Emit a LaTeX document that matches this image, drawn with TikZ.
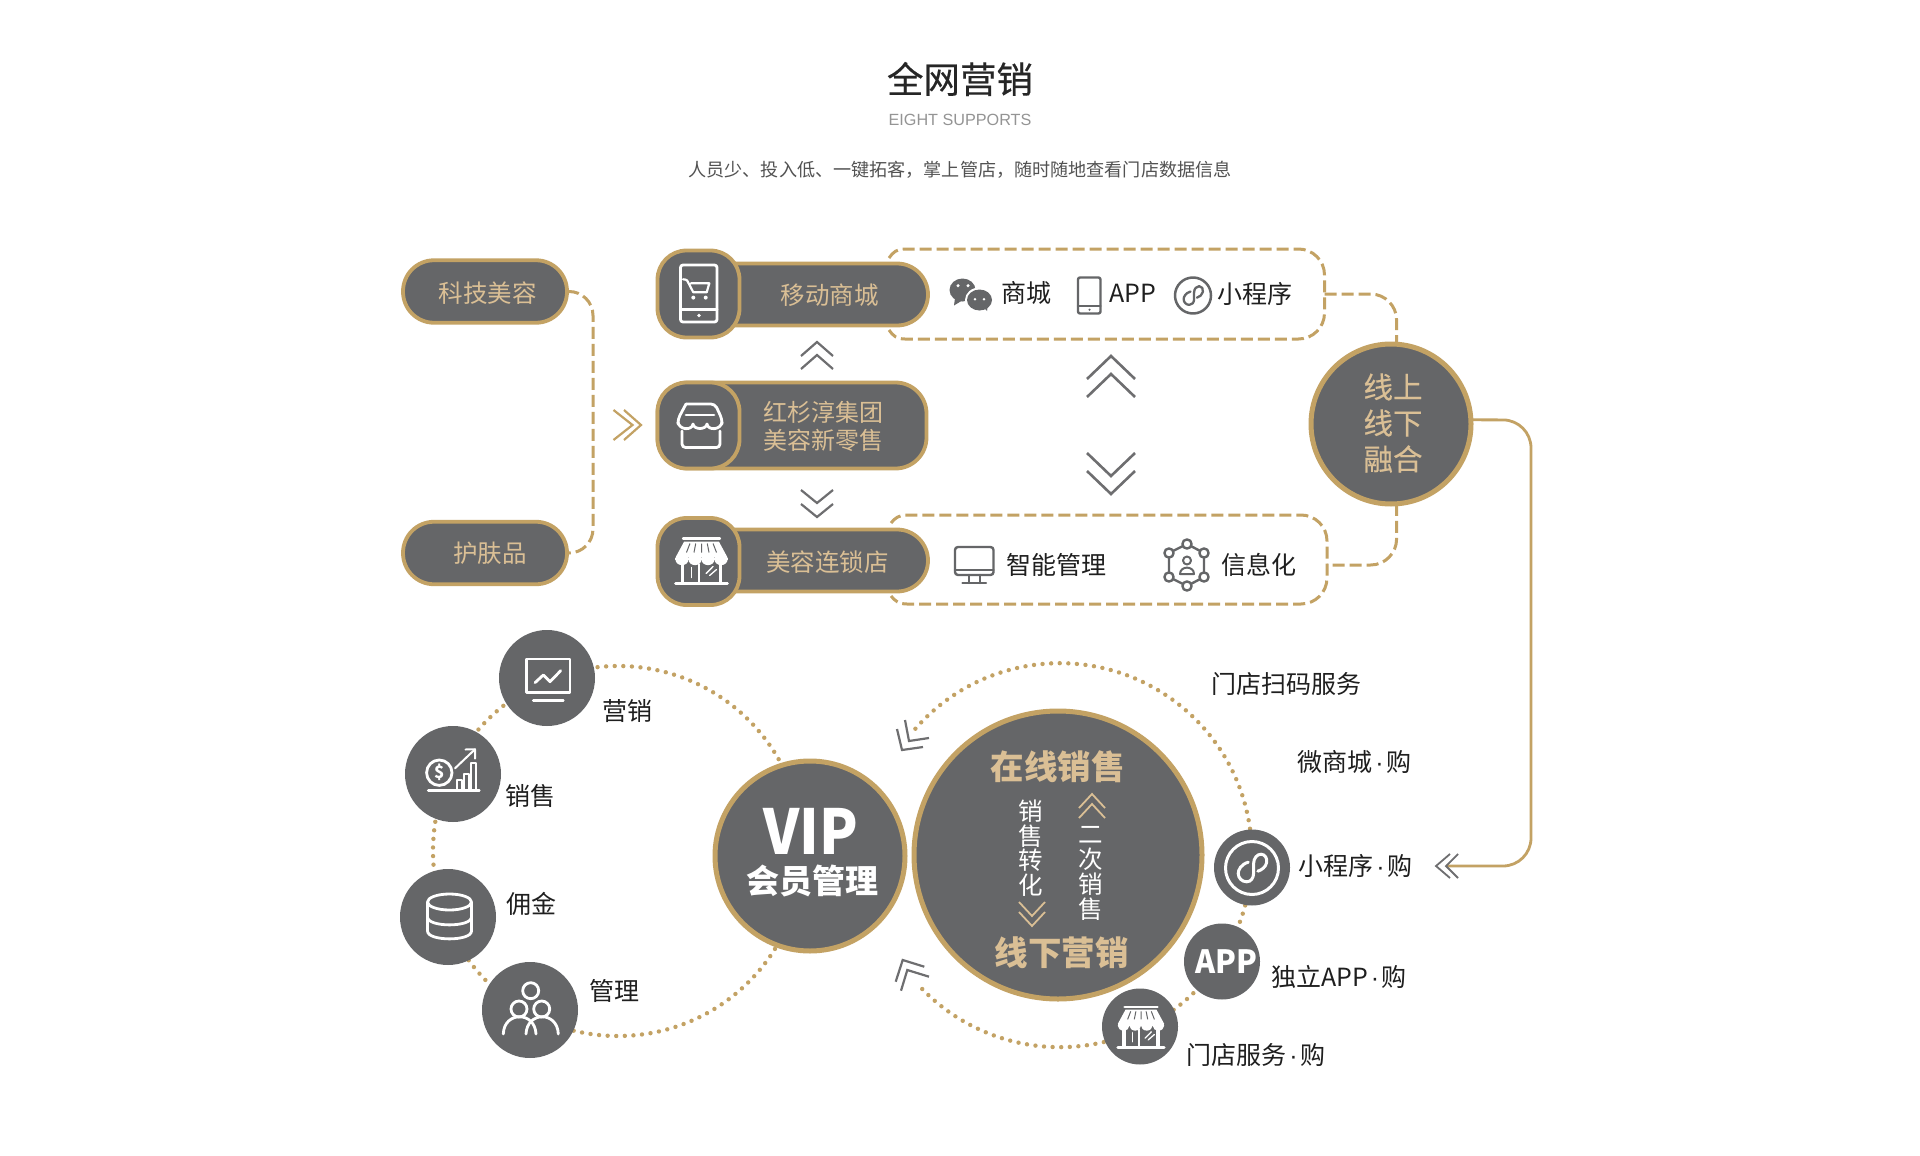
\documentclass[tikz,border=0pt]{standalone}
\usepackage{fontspec}
\setmainfont{Noto Sans CJK SC}
\newfontfamily\latinfont{Liberation Sans}
\newfontfamily\medfont[FakeBold=0.35]{Noto Sans CJK SC}
\usetikzlibrary{arrows.meta}
\definecolor{goldc}{HTML}{C3A264}
\definecolor{goldtxt}{HTML}{DABF95}
\definecolor{darkc}{HTML}{656668}
\definecolor{chev}{HTML}{6E6E70}
\newcommand{\fs}[1]{\fontsize{#1}{#1}\selectfont}
\newcommand{\midd}{\kern2.5pt{\latinfont ·}\kern2.5pt}
\tikzset{
  every node/.style={inner sep=0pt,outer sep=0pt},
  pillbox/.style={draw=goldc,line width=3.8pt,fill=darkc,rounded corners=31pt,rectangle},
  iconbox/.style={draw=goldc,line width=3.8pt,fill=darkc,rounded corners=29pt,rectangle,minimum width=82pt,minimum height=87pt},
  dashlink/.style={draw=goldc,line width=3pt,dash pattern=on 12pt off 5pt},
  solidlink/.style={draw=goldc,line width=2.8pt},
  dotring/.style={draw=goldc,line width=4.4pt,line cap=round,dash pattern=on 0pt off 8.6pt},
  chevgray/.style={draw=chev,line width=2.2pt},
  chevgold/.style={draw=goldc,line width=2.2pt},
  chevlight/.style={draw=goldtxt,line width=1.8pt},
  goldlabel/.style={text=goldtxt,font=\fs{24.5}},
  blacklabel/.style={text=black!88,font=\fs{25}},
  discgray/.style={circle,fill=darkc,minimum size=96pt},
  discsmall/.style={circle,fill=darkc,minimum size=76pt},
  discgold/.style={circle,fill=darkc,draw=goldc,line width=5pt},
  whiteline/.style={draw=white,line width=2.8pt,line cap=round,line join=round},
  grayline/.style={draw=darkc,line width=2.4pt,line cap=round,line join=round},
  pics/storeicon/.style={code={
    \draw[whiteline,line width=2.2pt] (-16,-22) -- (16,-22);
    \fill[white] (-15,-19) -- (15,-19) -- (22.5,-3) -- (-22.5,-3) -- cycle;
    \fill[white] (-22.5,-3) -- (22.5,-3) -- (22.5,-1) -- (-22.5,-1) -- cycle;
    \foreach \k in {-16.9,-5.6,5.6,16.9}{\fill[white] (\k,-1) circle (5.63);}
    \draw[draw=darkc,line width=1pt] (-10,-17) -- (-13,-8) (-5,-17) -- (-6.5,-8) (0,-17) -- (0,-8) (5,-17) -- (6.5,-8) (10,-17) -- (13,-8);
    \fill[white] (-18,3) rectangle (-15,23);
    \fill[white] (15,3) rectangle (18,23);
    \fill[white] (-3.2,3) rectangle (-1.2,23);
    \draw[whiteline] (-22.5,23.3) -- (22.5,23.3);
    \draw[whiteline,line width=1.5pt] (-8.5,7) -- (-8.5,17);
    \draw[whiteline,line width=1.3pt] (4,13) -- (10,6) (7,15) -- (13,9);
  }},
  pics/miniicon/.style={code={
    \draw[line cap=round] (-0.14,-0.22) .. controls (-0.42,-0.14) and (-0.52,0.08) .. (-0.52,0.2)
       .. controls (-0.52,0.38) and (-0.38,0.52) .. (-0.2,0.52)
       .. controls (-0.04,0.52) and (0.06,0.38) .. (0.06,0.2) -- (0.06,-0.16)
       .. controls (0.06,-0.38) and (0.2,-0.52) .. (0.34,-0.52)
       .. controls (0.5,-0.52) and (0.58,-0.36) .. (0.55,-0.2)
       .. controls (0.52,-0.04) and (0.36,0.08) .. (0.22,0.12);
  }}
}
\begin{document}
\begin{tikzpicture}[x=1pt,y=-1pt]
\useasboundingbox (0,0) rectangle (1920,1156);
\fill[white] (0,0) rectangle (1920,1156);

% header
\node (title) at (960,79) {\medfont\fs{36.5}\color{black!85}全网营销};
\node (subtitle) at (960,120) {\latinfont\fs{16.2}\color{black!42}EIGHT SUPPORTS};
\node (desc) at (960,170) {\fs{18.1}\color{black!68}人员少、投入低、一键拓客，掌上管店，随时随地查看门店数据信息};

% dotted rings
\draw[dotring] (618,851) circle (185);
\draw[dotring] (915.4,728.7) arc[start angle=-138.8,end angle=138.2,radius=192];

% left pills
\node[pillbox,minimum width=164pt,minimum height=62.5pt] (kj) at (485,291.5) {};
\node[goldlabel] (kjt) at (487.5,293) {科技美容};
\node[pillbox,minimum width=164pt,minimum height=62.5pt] (hf) at (485,553) {};
\node[goldlabel] (hft) at (490,553) {护肤品};
\coordinate (leftbus1) at (593,291.5);
\coordinate (leftbus2) at (593,553);
\draw[dashlink,rounded corners=24pt] (kj.east) -- (leftbus1) -- (leftbus2) -- (hf.east);

% dashed boxes
\draw[dashlink] (889,258) .. controls (893,252) and (897,249) .. (905,249) -- (1298.5,249) arc[start angle=-90,end angle=0,radius=26] -- (1324.5,313) arc[start angle=0,end angle=90,radius=26] -- (905,339) .. controls (897,339) and (893,336) .. (889,330);
\draw[dashlink] (891,523) .. controls (895,518) and (899,515) .. (907,515) -- (1301,515) arc[start angle=-90,end angle=0,radius=26] -- (1327,578) arc[start angle=0,end angle=90,radius=26] -- (907,604) .. controls (899,604) and (895,601) .. (891,596);
\coordinate (boxA) at (1324.5,294);
\coordinate (boxB) at (1327,565);

% central column
\node[pillbox,minimum width=232pt,minimum height=62pt] (mallbody) at (812,294.5) {};
\node[iconbox] (mall) at (698.5,294) {};
\node[goldlabel] (mallt) at (829.5,295) {移动商城};
\node[pillbox,minimum width=269pt,minimum height=86pt] (retail) at (792,425.5) {};
\node[iconbox,minimum height=86pt] (retailicon) at (698.5,425.5) {};
\node[goldlabel,font=\fs{24}] (rt1) at (823,412) {红杉淳集团};
\node[goldlabel,font=\fs{24}] (rt2) at (823,440) {美容新零售};
\node[pillbox,minimum width=232pt,minimum height=62pt] (chainbody) at (812,560.5) {};
\node[iconbox] (chain) at (698.5,561.5) {};
\node[goldlabel] (chaint) at (827.5,562) {美容连锁店};

% merge circle
\node[discgold,minimum size=160pt] (merge) at (1391,424) {};
\node[align=center,text=goldtxt,font=\medfont\fontsize{29.5}{36}\selectfont] (merget) at (1393,423) {线上\\线下\\融合};
\draw[dashlink,rounded corners=26pt] (boxA) -| (merge.86);
\draw[dashlink,rounded corners=26pt] (merge.-86) |- (boxB);
\coordinate (toMini) at (1446,866);
\coordinate (railT) at (1531,420);
\coordinate (railB) at (1531,866);
\draw[solidlink,rounded corners=28pt] (merge.3) -- (railT) -- (railB) -- (toMini);

% chevrons, central column
\draw[chevgold] (613.5,410) -- (632.5,425) -- (613.5,440) (624,410) -- (641,425) -- (624,440);
\draw[chevgray] (801,356) -- (817,342) -- (833,356) (801,369) -- (817,355) -- (833,369);
\draw[chevgray] (801,490) -- (817,503) -- (833,490) (801,504) -- (817,517) -- (833,504);
\draw[chevgray,line width=2.6pt] (1087,379) -- (1111,356) -- (1135,379) (1087,397) -- (1111,374) -- (1135,397);
\draw[chevgray,line width=2.6pt] (1087,453) -- (1111,476) -- (1135,453) (1087,471) -- (1111,494) -- (1135,471);
\draw[chevgray,line width=1.8pt] (1450,854) -- (1436,866) -- (1450,878) (1458,854) -- (1446,866) -- (1458,878);

% icon: phone + cart
\draw[whiteline,rounded corners=2.5pt] (680.5,265) rectangle (717,322);
\draw[whiteline] (680.5,309.3) -- (717,309.3);
\fill[white] (699,315.5) circle (1.9);
\draw[whiteline,line width=2.2pt] (683,279.3) .. controls (687,279.3) and (688,281) .. (689,284) -- (693.3,292.3) -- (706.7,292.3) -- (709.3,283.3) -- (691,283.3);
\fill[white] (693.3,297.6) circle (2) (705.7,297.6) circle (2);

% icon: shop outline
\draw[whiteline,rounded corners=4pt] (686,404) -- (715,404) -- (722,419) -- (722,424);
\draw[whiteline,rounded corners=4pt] (686,404) -- (678,419) -- (678,424);
\draw[whiteline] (678,422) .. controls (679,430) and (692,431) .. (693,424) .. controls (694,430) and (706,430) .. (707,424) .. controls (708,431) and (721,430) .. (722,422);
\draw[whiteline] (686,415) -- (714,415);
\draw[whiteline,rounded corners=3.5pt] (682,431) -- (682,447.5) -- (720,447.5) -- (720,431);

% icon: store
\pic[xscale=1.156] at (701.5,560.5) {storeicon};

% top row contents
\fill[darkc] (962.5,290) ellipse (13 and 11.5);
\fill[darkc] (955,298) -- (954,305.5) -- (963,300) -- cycle;
\fill[white] (979.5,300) ellipse (14.5 and 12.5);
\fill[darkc] (979.5,300) ellipse (12.5 and 10.5);
\fill[darkc] (983,307) -- (987,311) -- (988,304) -- cycle;
\fill[white] (958,285.7) circle (1.7) (968,285.7) circle (1.7) (975,299.3) circle (1.4) (984,299.3) circle (1.4);
\node[blacklabel] (t1) at (1026,293) {商城};
\draw[grayline,rounded corners=2pt] (1078,277.5) rectangle (1100.5,313.5);
\draw[grayline] (1078,306) -- (1100.5,306);
\fill[darkc] (1089.5,309.7) circle (1.2);
\node[blacklabel] (t2) at (1133,293) {APP};
\draw[grayline,line width=2.5pt] (1193,295.5) circle (18);
\pic[grayline,line width=2.3pt,scale=18] at (1193,295.5) {miniicon};
\node[blacklabel] (t3) at (1254.5,294) {小程序};

% bottom row contents
\draw[grayline,rounded corners=3pt] (955,547) rectangle (993.5,575);
\draw[grayline] (955,570) -- (993.5,570);
\draw[grayline] (969,575) -- (969,583) (980,575) -- (980,583) (962.5,583) -- (986,583);
\node[blacklabel] (t4) at (1056,565) {智能管理};
\draw[grayline] (1187,544) -- (1204,553) -- (1204,577) -- (1187,586) -- (1169,577) -- (1169,553) -- cycle;
\foreach \p in {(1187,544),(1204,553),(1204,577),(1187,586),(1169,577),(1169,553)}{\draw[grayline,fill=white] \p circle (4.6);}
\draw[grayline,line width=2pt] (1187,560.5) circle (4);
\draw[grayline,line width=2pt] (1180,574) .. controls (1180,565.5) and (1194,565.5) .. (1194,574) -- cycle;
\node[blacklabel] (t5) at (1259,565) {信息化};

% satellite circles, left
\node[discgray] (d1) at (547,678) {};
\node[discgray] (d2) at (453,774) {};
\node[discgray] (d3) at (448,917) {};
\node[discgray] (d4) at (530,1010) {};
\node[blacklabel] (l1) at (627,711) {营销};
\node[blacklabel] (l2) at (530,796) {销售};
\node[blacklabel] (l3) at (531,904) {佣金};
\node[blacklabel] (l4) at (614.5,991) {管理};

% icon: chart
\draw[whiteline] (526.7,659) rectangle (570,692.3);
\draw[whiteline] (533.3,700.7) -- (563.3,700.7);
\draw[whiteline] (535,682.7) -- (543.3,675) -- (550,681.7) -- (560.7,670.7);

% icon: sales
\draw[whiteline] (439.3,772.7) circle (12.7);
\node[text=white,font=\fs{17}\bfseries] (dollar) at (439.3,772.7) {\$};
\draw[whiteline] (428.3,790.3) -- (479.3,790.3);
\draw[whiteline,line width=2pt] (456.7,790) -- (456.7,780) -- (461.7,780) -- (461.7,790);
\draw[whiteline,line width=2pt] (464,790) -- (464,774) -- (469.3,774) -- (469.3,790);
\draw[whiteline,line width=2pt] (471,790) -- (471,763) -- (476,763) -- (476,790);
\draw[whiteline,line width=2pt] (455,768.3) -- (475,749.3);
\draw[whiteline,line width=2pt] (465.5,749.5) -- (475,749.3) -- (475,758.5);

% icon: database
\draw[whiteline] (449.5,902) ellipse (22 and 8);
\draw[whiteline] (427.5,902) -- (427.5,931) .. controls (427.5,941.5) and (471.5,941.5) .. (471.5,931) -- (471.5,902);
\draw[whiteline] (427.5,917) .. controls (427.5,927.5) and (471.5,927.5) .. (471.5,917);

% icon: people
\draw[whiteline] (530.7,990.7) circle (8);
\draw[whiteline] (519,1009) circle (8);
\draw[whiteline] (541.7,1009) circle (8);
\draw[whiteline] (503.3,1034) .. controls (504,1011) and (535,1011) .. (536,1034);
\draw[whiteline] (526,1034) .. controls (527,1011) and (557.5,1011) .. (558.3,1034);

% VIP
\node[discgold,minimum size=190pt] (vip) at (810,856) {};
\node[text=white,font=\fs{62}\bfseries] (vipt) at (811,831) {\scalebox{.91}[1]{VIP}};
\node[text=white,font=\fs{33}\bfseries] (vipn) at (812.5,881) {会员管理};

% Sales circle
\node[discgold,minimum size=288pt] (sales) at (1058,855) {};
\node[text=goldtxt,font=\fs{33.5}\bfseries] (s1) at (1057.5,767) {在线销售};
\node[text=goldtxt,font=\fs{33.5}\bfseries] (s2) at (1061.5,953) {线下营销};
\node[text=white,align=center,font=\fontsize{24.5}{24.5}\selectfont] (s3) at (1031,848) {销\\售\\转\\化};
\node[text=white,align=center,font=\fontsize{24.5}{25}\selectfont] (s4) at (1091,873) {二\\次\\销\\售};
\draw[chevlight] (1079,808) -- (1092,794) -- (1105,808) (1079,818) -- (1092,804) -- (1105,818);
\draw[chevlight] (1019,902) -- (1032,916) -- (1045,902) (1019,912) -- (1032,926) -- (1045,912);

% ring chevrons
\draw[chevgray] (905,720) -- (909,741) -- (929,738) (897,729) -- (902,750) -- (923,747);
\draw[chevgray] (924.3,966.7) -- (902.7,960) -- (895.7,981.7) (929,976.7) -- (907.3,970) -- (901,990.7);

% satellite circles, right
\node[discsmall] (r1) at (1252,867.5) {};
\node[discsmall] (r2) at (1222,961.5) {};
\node[discsmall] (r3) at (1140,1026.5) {};
\draw[whiteline,line width=3pt] (1252,868) circle (26.5);
\pic[draw=white,line width=3pt,scale=26.5] at (1252,868) {miniicon};
\node[text=white,font=\fs{32}\bfseries] (appt) at (1226,962) {\scalebox{.95}[1]{APP}};
\pic[xscale=1.03,yscale=.89] at (1141,1026.5) {storeicon};

\node[blacklabel] (m0) at (1286.5,684) {门店扫码服务};
\node[blacklabel] (m1) at (1354.5,762) {微商城\midd 购};
\node[blacklabel] (m2) at (1355.5,866) {小程序\midd 购};
\node[blacklabel] (m3) at (1339,977) {独立APP\midd 购};
\node[blacklabel] (m4) at (1256,1055) {门店服务\midd 购};
\end{tikzpicture}
\end{document}
